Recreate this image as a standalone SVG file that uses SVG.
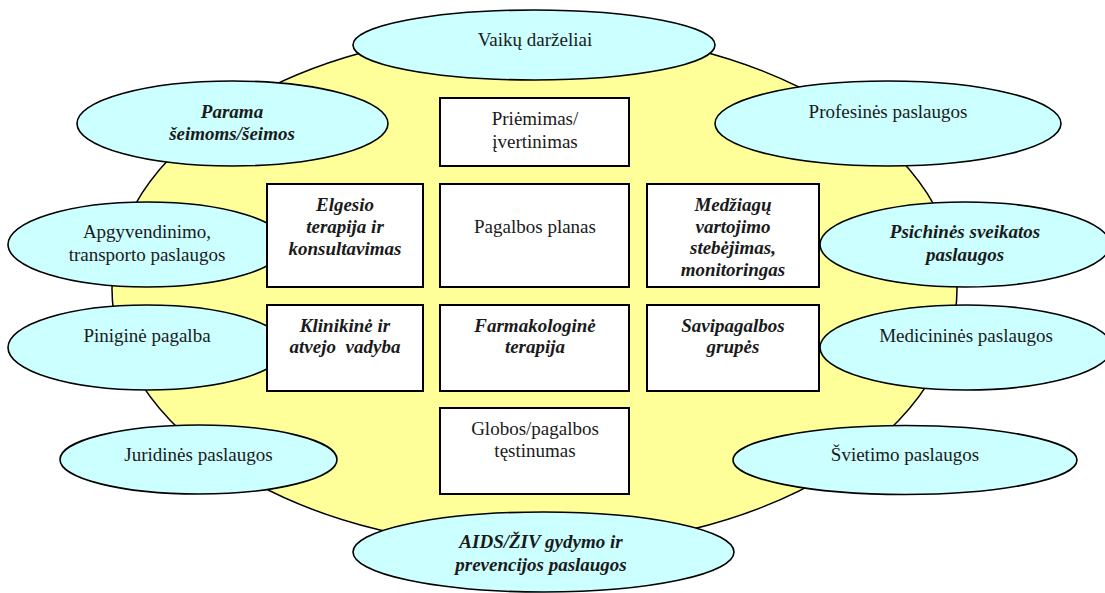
<svg xmlns="http://www.w3.org/2000/svg" width="1105" height="593" viewBox="0 0 1105 593">
<style>
.bg{fill:#FFFF99;stroke:#000;stroke-width:1.5}
.el{fill:#CCFFFF;stroke:#000;stroke-width:1.6}
.bx{fill:#FFFFFF;stroke:#000;stroke-width:2}
text{font-family:"Liberation Serif","Times New Roman",serif;font-size:19px;fill:#1a1a1a;text-anchor:middle}
.bi{font-weight:bold;font-style:italic}
</style>
<rect width="1105" height="593" fill="#FFFFFF"/>
<g id="background"><ellipse class="bg" cx="534.5" cy="289" rx="422.5" ry="259"/></g>
<g id="connectors"/>
<g id="vaiku"><ellipse class="el" cx="534" cy="45" rx="181" ry="35"/><text x="535" y="46">Vaikų darželiai</text></g>
<g id="parama"><ellipse class="el" cx="232.5" cy="123.5" rx="155.5" ry="42.5"/><text class="bi" x="232" y="118">Parama</text><text class="bi" x="232" y="140">šeimoms/šeimos</text></g>
<g id="profesines"><ellipse class="el" cx="888" cy="123.5" rx="173" ry="42.5"/><text x="888" y="118">Profesinės paslaugos</text></g>
<g id="apgyvendinimo"><ellipse class="el" cx="147" cy="244.5" rx="139" ry="42.5"/><text x="147" y="238">Apgyvendinimo,</text><text x="147" y="261">transporto paslaugos</text></g>
<g id="psichines"><ellipse class="el" cx="965" cy="244.5" rx="145" ry="42.5"/><text class="bi" x="965" y="238">Psichinės sveikatos</text><text class="bi" x="965" y="261">paslaugos</text></g>
<g id="pinigine"><ellipse class="el" cx="147" cy="347.5" rx="139" ry="42.5"/><text x="147" y="342">Piniginė pagalba</text></g>
<g id="medicinines"><ellipse class="el" cx="966" cy="347.5" rx="146" ry="42.5"/><text x="966" y="342">Medicininės paslaugos</text></g>
<g id="juridines"><ellipse class="el" cx="198.5" cy="459.5" rx="138.5" ry="34.5"/><text x="198.5" y="461">Juridinės paslaugos</text></g>
<g id="svietimo"><ellipse class="el" cx="905" cy="460" rx="172" ry="34.5"/><text x="905" y="461">Švietimo paslaugos</text></g>
<g id="aids"><ellipse class="el" cx="543.5" cy="552" rx="190.5" ry="40"/><text class="bi" x="541" y="548">AIDS/ŽIV gydymo ir</text><text class="bi" x="541" y="571">prevencijos paslaugos</text></g>
<g id="priemimas"><rect class="bx" x="440" y="98" width="189" height="68"/><text x="535" y="125">Priėmimas/</text><text x="535" y="148">įvertinimas</text></g>
<g id="elgesio"><rect class="bx" x="267" y="184" width="156" height="103"/><text class="bi" x="345" y="211">Elgesio</text><text class="bi" x="345" y="233">terapija ir</text><text class="bi" x="345" y="255">konsultavimas</text></g>
<g id="planas"><rect class="bx" x="440" y="184" width="189" height="103"/><text x="535" y="233">Pagalbos planas</text></g>
<g id="medziagu"><rect class="bx" x="647" y="184" width="172" height="103"/><text class="bi" x="733" y="211">Medžiagų</text><text class="bi" x="733" y="233">vartojimo</text><text class="bi" x="733" y="254">stebėjimas,</text><text class="bi" x="733" y="276">monitoringas</text></g>
<g id="klinikine"><rect class="bx" x="267" y="305" width="156" height="86"/><text class="bi" x="345" y="332">Klinikinė ir</text><text class="bi" x="345" y="353" xml:space="preserve">atvejo  vadyba</text></g>
<g id="farmakologine"><rect class="bx" x="440" y="305" width="189" height="86"/><text class="bi" x="535" y="332">Farmakologinė</text><text class="bi" x="535" y="353">terapija</text></g>
<g id="savipagalbos"><rect class="bx" x="647" y="305" width="172" height="86"/><text class="bi" x="733" y="332">Savipagalbos</text><text class="bi" x="733" y="353">grupės</text></g>
<g id="globos"><rect class="bx" x="440" y="408" width="189" height="86"/><text x="535" y="435">Globos/pagalbos</text><text x="535" y="457">tęstinumas</text></g>
</svg>
